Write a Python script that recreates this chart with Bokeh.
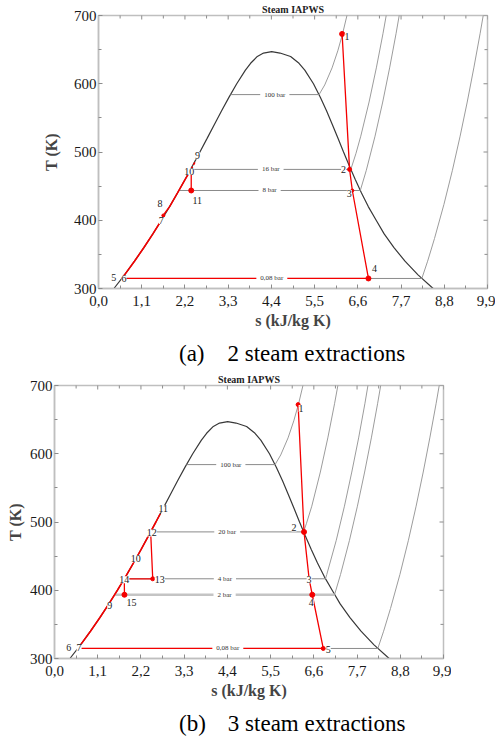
import numpy as np
from bokeh.plotting import figure
from bokeh.models import FixedTicker, ColumnDataSource, Div
from bokeh.layouts import column
from bokeh.embed import file_html
from bokeh.resources import INLINE
from bokeh.core.properties import value

# ---------------- data ----------------
x_ticks = [0.0, 1.1, 2.2, 3.3, 4.4, 5.5, 6.6, 7.7, 8.8, 9.9]
x_tick_labels = ["0,0", "1,1", "2,2", "3,3", "4,4", "5,5", "6,6", "7,7", "8,8", "9,9"]
y_ticks = [300, 400, 500, 600, 700]

# saturation dome
dome_T = [290, 300, 320, 340, 360, 380, 400, 420, 440, 460, 480, 500, 520, 540,
          560, 580, 600, 620, 630, 640, 645, 647.1]
dome_sf = [0.251, 0.393, 0.663, 0.916, 1.156, 1.384, 1.601, 1.810, 2.011, 2.206,
           2.395, 2.581, 2.764, 2.946, 3.130, 3.319, 3.518, 3.739, 3.871, 4.042, 4.20, 4.407]
dome_sg = [8.738, 8.517, 8.132, 7.800, 7.520, 7.270, 7.067, 6.866, 6.693, 6.532,
           6.382, 6.236, 6.095, 5.953, 5.806, 5.648, 5.471, 5.250, 5.103, 4.889, 4.62, 4.407]

# isobars: saturation temperature, liquid / vapour entropy, superheated branch
p100_Tsat, p100_sf, p100_sg = 584.1, 3.360, 5.614
p100_T = [584.1, 598.2, 623.2, 648.2, 673.2, 723.2]
p100_s = [5.614, 5.757, 5.944, 6.090, 6.212, 6.419]

p16_Tsat, p16_sf, p16_sg = 474.5, 2.344, 6.422
p16_T = [474.5, 498.2, 523.2, 573.2, 623.2, 673.2, 723.2]
p16_s = [6.422, 6.554, 6.675, 6.886, 7.071, 7.239, 7.394]

p8_Tsat, p8_sf, p8_sg = 443.6, 2.046, 6.663
p8_T = [443.6, 473.2, 523.2, 573.2, 623.2, 673.2, 723.2]
p8_s = [6.663, 6.816, 7.038, 7.233, 7.409, 7.572, 7.723]

p008_Tsat, p008_sf, p008_sg = 314.7, 0.593, 8.229
p008_T = [314.7, 340, 373.2, 423.2, 473.2, 523.2, 573.2, 623.2, 673.2, 723.2]
p008_s = [8.229, 8.376, 8.551, 8.791, 9.007, 9.203, 9.384, 9.552, 9.711, 9.860]

p20_Tsat, p20_sf, p20_sg = 485.5, 2.447, 6.339
p20_T = [485.5, 498.2, 523.2, 573.2, 623.2, 673.2, 723.2]
p20_s = [6.339, 6.414, 6.548, 6.766, 6.956, 7.127, 7.285]

p4_Tsat, p4_sf, p4_sg = 416.8, 1.777, 6.896
p4_T = [416.8, 423.2, 473.2, 523.2, 573.2, 623.2, 673.2, 723.2]
p4_s = [6.896, 6.930, 7.171, 7.379, 7.566, 7.740, 7.899, 8.045]

p2_Tsat, p2_sf, p2_sg = 393.4, 1.530, 7.127
p2_T = [393.4, 423.2, 473.2, 523.2, 573.2, 623.2, 673.2, 723.2]
p2_s = [7.127, 7.280, 7.507, 7.709, 7.893, 8.064, 8.222, 8.371]

# cycle (a): 2 steam extractions
a_lab = ["1", "2", "3", "4", "5", "6", "7", "8", "9", "10", "11"]
a_s = [6.20, 6.39, 6.46, 6.87, 0.593, 0.60, 1.65, 1.67, 2.47, 2.36, 2.36]
a_T = [673, 474.5, 443.6, 314.7, 314.7, 315.5, 407, 409, 487, 474.5, 443.6]

# cycle (b): 3 steam extractions
b_lab = ["1", "2", "3", "4", "5", "6", "7", "9", "10", "11", "12", "13", "14", "15"]
b_s = [6.20, 6.35, 6.48, 6.56, 6.84, 0.593, 0.60, 1.38, 2.07, 2.69, 2.447, 2.50, 1.777, 1.78]
b_T = [672, 485.5, 416.8, 393.4, 314.7, 314.7, 315.5, 380, 446, 512, 485.5, 416.8, 416.8, 393.4]

cap_a = ("(a)", "2 steam extractions")
cap_b = ("(b)", "3 steam extractions")

# ---------------- styles ----------------
FONT = "Liberation Serif"
RED = "#f40000"
DOME = "#383838"
ISO = "#8a8a8a"
ISO_CURVE = "#9c9c9c"
FRAME = "#bfbfbf"
TICK = "#8c8c8c"

a_dx = [5, -6, -3, 6, -8, 2, -2, -4, 2, -2, 6]
a_dy = [3, 0, 3, -10, -1, 1, 5, -11, -5, 2, 10]
a_mark = [5, 4, 3, 5, 0, 0, 3, 0, 0, 0, 5]

b_dx = [3, -10, 0, -1, 5, -9, 1, 1, 0, 3, 1, 7, 0, 7]
b_dy = [4, -4, 1, 8, 1, -1, 0, 2, 0, -5, 1, 1, 1, 8]
b_mark = [4, 5, 0, 5, 4, 0, 0, 0, 0, 0, 0, 4, 0, 5]


def liquid_path(s0, T0, s1, T1):
    xs, ys = [s0], [T0]
    for s, T in zip(dome_sf, dome_T):
        if T0 < T < T1:
            xs.append(s)
            ys.append(T)
    xs.append(s1)
    ys.append(T1)
    return xs, ys


def style_axis(ax):
    ax.axis_line_color = FRAME
    ax.axis_line_width = 1.5
    ax.major_tick_line_color = TICK
    ax.minor_tick_line_color = TICK
    ax.major_tick_in = 4
    ax.major_tick_out = 0
    ax.minor_tick_in = 3
    ax.minor_tick_out = 0
    ax.major_label_text_font = FONT
    ax.major_label_text_color = "#1a1a1a"
    ax.major_label_text_font_size = "15px"
    ax.major_label_standoff = 2


def build(height, mbt, ylab_standoff, margin):
    p = figure(width=495, height=height, x_range=(0, 9.9), y_range=(300, 700),
               output_backend="svg", toolbar_location=None,
               min_border_left=98, min_border_right=8,
               min_border_top=mbt, min_border_bottom=52, margin=margin)
    p.grid.visible = False
    p.outline_line_color = FRAME
    p.outline_line_width = 1.5
    p.background_fill_color = "white"
    p.border_fill_color = "white"

    p.title.text = "Steam IAPWS"
    p.title.align = "center"
    p.title.text_font = FONT
    p.title.text_font_size = "10px"
    p.title.text_font_style = "bold"
    p.title.text_color = "#222222"
    p.title.standoff = 1

    x_minor = [(a + b) / 2 for a, b in zip(x_ticks[:-1], x_ticks[1:])]
    y_minor = [(a + b) / 2 for a, b in zip(y_ticks[:-1], y_ticks[1:])]

    xa = p.xaxis[0]
    xa.ticker = FixedTicker(ticks=x_ticks, minor_ticks=x_minor)
    xa.major_label_overrides = dict(zip(x_ticks, x_tick_labels))
    style_axis(xa)
    xa.major_label_standoff = 7
    xa.axis_label = "s (kJ/kg K)"
    xa.axis_label_text_font = FONT
    xa.axis_label_text_font_style = "bold"
    xa.axis_label_text_font_size = "16px"
    xa.axis_label_standoff = 3

    ya = p.yaxis[0]
    ya.ticker = FixedTicker(ticks=y_ticks, minor_ticks=y_minor)
    style_axis(ya)
    ya.axis_label = "T (K)"
    ya.axis_label_text_font = FONT
    ya.axis_label_text_font_style = "bold"
    ya.axis_label_text_font_size = "16px"
    ya.axis_label_standoff = ylab_standoff

    # mirrored tick marks on the top and right frame edges (half clipped by the frame)
    p.scatter(x_ticks, [y_ticks[-1]] * len(x_ticks), marker="dash", angle=np.pi / 2,
              size=8, line_color=TICK, line_width=1)
    p.scatter(x_minor, [y_ticks[-1]] * len(x_minor), marker="dash", angle=np.pi / 2,
              size=6, line_color=TICK, line_width=1)
    p.scatter([x_ticks[-1]] * len(y_ticks), y_ticks, marker="dash",
              size=8, line_color=TICK, line_width=1)
    p.scatter([x_ticks[-1]] * len(y_minor), y_minor, marker="dash",
              size=6, line_color=TICK, line_width=1)

    # saturation dome
    p.line(dome_sf + dome_sg[::-1], dome_T + dome_T[::-1], line_color=DOME, line_width=1.2)
    return p


def caption(parts, left, gap):
    html = ('<div style="padding-left:%dpx; font-family:\'Liberation Serif\', serif; '
            'font-size:23px; line-height:28px; color:#000; white-space:nowrap;">'
            '<span>%s</span><span style="margin-left:%dpx">%s</span></div>'
            % (left, parts[0], gap, parts[1]))
    return Div(text=html, width=495, height=28, margin=0)


def draw_isobars(p, isobars):
    names, xs, ys = [], [], []
    for name, Tsat, sf, sg, ss, TT, col, w in isobars:
        p.line([sf, sg], [Tsat, Tsat], line_color=col, line_width=w)
        p.line(ss, TT, line_color=ISO_CURVE, line_width=1)
        names.append(name)
        xs.append((sf + sg) / 2)
        ys.append(Tsat)
    return dict(x=xs, y=ys, text=names)


def draw_labels(p, iso_lab, pts_s, pts_T, labs, dx, dy, marks):
    src = ColumnDataSource(dict(x=[s for s, m in zip(pts_s, marks) if m > 0],
                                y=[T for T, m in zip(pts_T, marks) if m > 0],
                                size=[m for m in marks if m > 0]))
    p.scatter("x", "y", size="size", source=src, color=RED)
    p.text(x=iso_lab["x"], y=iso_lab["y"], text=iso_lab["text"],
           text_font=value(FONT), text_font_size="7px", text_color="#333333",
           text_align="center", text_baseline="middle",
           background_fill_color="white", padding=(4, 1))
    p.text(x=pts_s, y=pts_T, text=labs, x_offset=dx, y_offset=dy,
           text_font=value(FONT), text_font_size="10px", text_color="#222222",
           text_align="center", text_baseline="middle",
           background_fill_color="white", padding=0)


# ---------------- panel (a) ----------------
pa = build(340, 15, 11, 0)
iso_a = draw_isobars(pa, [
    ("100 bar", p100_Tsat, p100_sf, p100_sg, p100_s, p100_T, ISO, 1),
    ("16 bar", p16_Tsat, p16_sf, p16_sg, p16_s, p16_T, ISO, 1),
    ("8 bar", p8_Tsat, p8_sf, p8_sg, p8_s, p8_T, ISO, 1),
    ("0,08 bar", p008_Tsat, p008_sf, p008_sg, p008_s, p008_T, ISO, 1),
])
pa.line(a_s[0:5], a_T[0:5], line_color=RED, line_width=1.3)
xs, ys = liquid_path(a_s[5], a_T[5], a_s[6], a_T[6])
pa.line(xs, ys, line_color=RED, line_width=1.6)
xs, ys = liquid_path(a_s[7], a_T[7], a_s[9], a_T[9])
pa.line(xs, ys, line_color=RED, line_width=1.6)
pa.line([a_s[9], a_s[8]], [a_T[9], a_T[8]], line_color=RED, line_width=1.6, line_dash="3 2")
pa.line([a_s[9], a_s[10]], [a_T[9], a_T[10]], line_color=RED, line_width=1.3)
draw_labels(pa, iso_a, a_s, a_T, a_lab, a_dx, a_dy, a_mark)

# ---------------- panel (b) ----------------
pb = build(342, 17, 3, (0, 0, 0, -44))
iso_b = draw_isobars(pb, [
    ("100 bar", p100_Tsat, p100_sf, p100_sg, p100_s, p100_T, ISO, 1),
    ("20 bar", p20_Tsat, p20_sf, p20_sg, p20_s, p20_T, ISO, 1),
    ("4 bar", p4_Tsat, p4_sf, p4_sg, p4_s, p4_T, ISO, 1),
    ("2 bar", p2_Tsat, p2_sf, p2_sg, p2_s, p2_T, "#c4c4c4", 2.5),
    ("0,08 bar", p008_Tsat, p008_sf, p008_sg, p008_s, p008_T, ISO, 1),
])
pb.line(b_s[0:6], b_T[0:6], line_color=RED, line_width=1.3)
xs, ys = liquid_path(b_s[6], b_T[6], b_s[9], b_T[9])
pb.line(xs, ys, line_color=RED, line_width=1.6)
pb.line(b_s[10:14], b_T[10:14], line_color=RED, line_width=1.3)
draw_labels(pb, iso_b, b_s, b_T, b_lab, b_dx, b_dy, b_mark)

layout = column(pa, caption(cap_a, 179, 23), pb, caption(cap_b, 179, 22), spacing=0)
open("out.html", "w").write(file_html(layout, INLINE))
